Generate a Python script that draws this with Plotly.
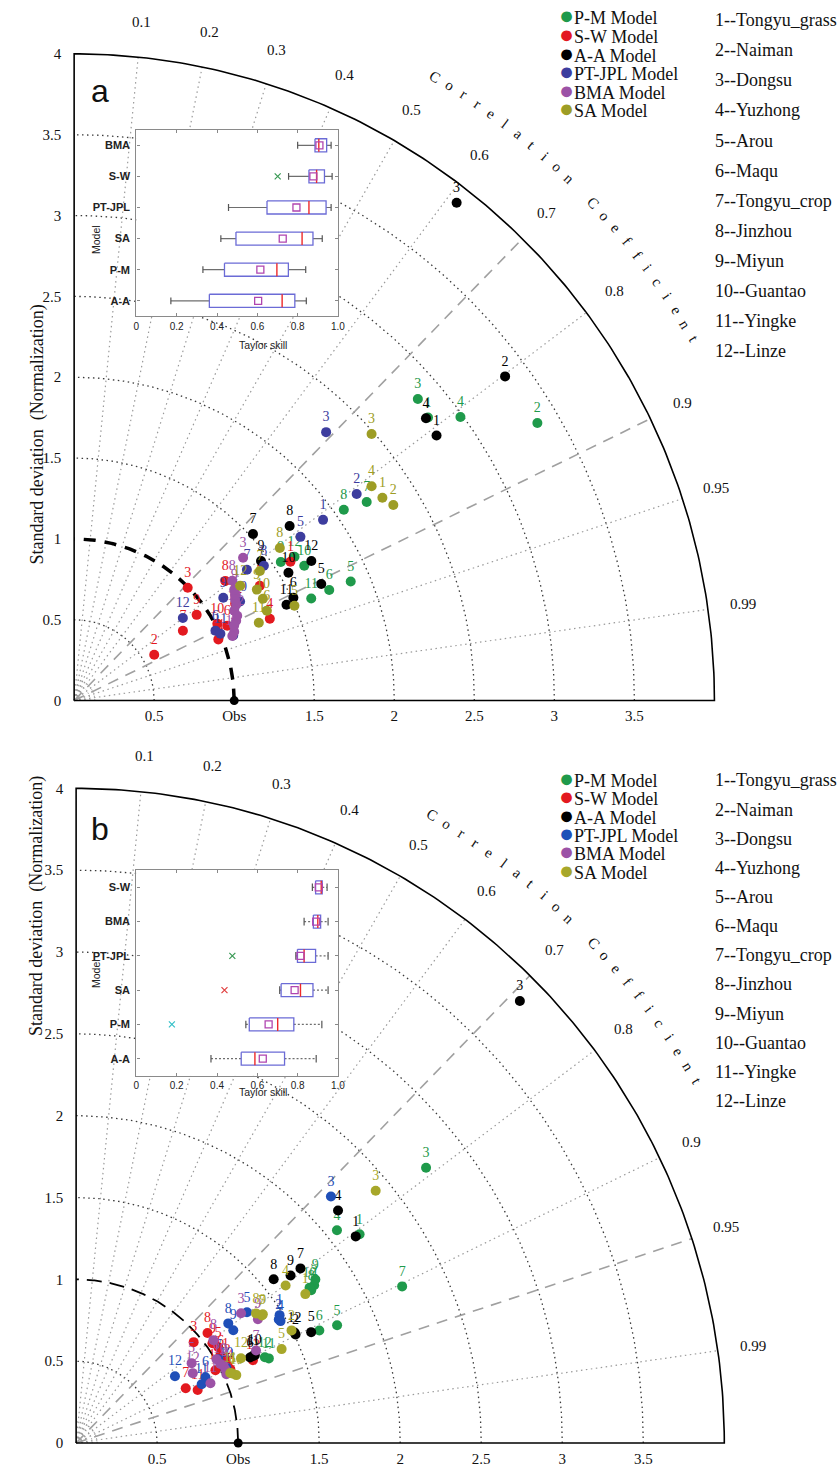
import numpy as np
import plotly.graph_objects as go

W, H = 840, 1470
SERIF = "Liberation Serif"
SANS = "Liberation Sans"

MODELS = ["P-M Model", "S-W Model", "A-A Model", "PT-JPL Model", "BMA Model", "SA Model"]
SITES = ["1--Tongyu_grass", "2--Naiman", "3--Dongsu", "4--Yuzhong", "5--Arou", "6--Maqu",
         "7--Tongyu_crop", "8--Jinzhou", "9--Miyun", "10--Guantao", "11--Yingke", "12--Linze"]
SITE_IDS = [str(i) for i in range(1, 13)]
COLORS_A = ["#1f9a4b", "#e3191f", "#000000", "#3d3d9e", "#9c52a6", "#9d9d25"]
COLORS_B = ["#1f9a4b", "#e3191f", "#000000", "#1f4fb8", "#9c52a6", "#a7a72a"]

# ---------------- Panel a: normalized standard deviation and correlation (sites 1..12)
A_STD_PM = [2.82, 3.365, 2.844, 2.983, 1.878, 1.734, 2.202, 2.057, 1.550, 1.662, 1.610, 1.639]
A_R_PM = [0.784, 0.860, 0.755, 0.809, 0.920, 0.919, 0.830, 0.819, 0.833, 0.865, 0.920, 0.840]
A_STD_SW = [1.601, 0.575, 0.995, 1.323, 1.360, 1.063, 0.805, 1.200, 0.931, 1.013, 0.977, 1.171]
A_R_SW = [0.844, 0.870, 0.713, 0.924, 0.853, 0.900, 0.844, 0.787, 0.822, 0.883, 0.922, 0.859]
A_STD_AA = [2.795, 3.357, 3.898, 2.807, 1.704, 1.510, 1.520, 1.726, 1.452, 1.555, 1.453, 1.715]
A_R_AA = [0.810, 0.802, 0.613, 0.783, 0.906, 0.907, 0.735, 0.780, 0.804, 0.861, 0.913, 0.864]
A_STD_PT = [1.915, 2.179, 2.288, 1.072, 1.739, 0.983, 1.349, 1.449, 1.128, 1.204, 1.003, 0.850]
A_R_PT = [0.812, 0.810, 0.688, 0.927, 0.813, 0.898, 0.800, 0.818, 0.826, 0.861, 0.911, 0.799]
A_STD_BMA = [1.173, 1.126, 1.376, 1.087, 1.183, 1.102, 1.200, 1.235, 1.212, 1.144, 1.066, 1.146]
A_R_BMA = [0.863, 0.899, 0.767, 0.920, 0.850, 0.907, 0.838, 0.800, 0.825, 0.874, 0.927, 0.889]
A_STD_SA = [2.298, 2.332, 2.484, 2.283, 1.496, 1.326, 1.410, 1.594, 1.332, 1.337, 1.250, 1.257]
A_R_SA = [0.838, 0.855, 0.748, 0.814, 0.920, 0.908, 0.823, 0.806, 0.857, 0.882, 0.923, 0.825]

# ---------------- Panel b
B_STD_PM = [2.165, 1.757, 2.737, 2.069, 1.764, 1.651, 2.228, 1.725, 1.783, 1.725, 1.297, 1.277]
B_R_PM = [0.808, 0.836, 0.789, 0.778, 0.913, 0.909, 0.903, 0.841, 0.828, 0.835, 0.917, 0.912]
B_STD_SW = [1.054, 1.047, 0.952, 1.053, 1.055, 1.039, 0.755, 1.053, 1.039, 0.968, 0.817, 1.203]
B_R_SW = [0.874, 0.891, 0.762, 0.904, 0.832, 0.857, 0.896, 0.770, 0.810, 0.888, 0.918, 0.907]
B_STD_AA = [2.138, 1.508, 3.846, 2.152, 1.601, 1.194, 1.748, 1.577, 1.673, 1.227, 1.213, 1.508]
B_R_AA = [0.807, 0.898, 0.712, 0.751, 0.906, 0.899, 0.792, 0.773, 0.791, 0.899, 0.899, 0.894]
B_STD_PT = [1.479, 1.461, 2.178, 1.465, 1.323, 0.894, 1.016, 1.190, 1.190, 1.036, 0.854, 0.734]
B_R_PT = [0.849, 0.856, 0.722, 0.861, 0.797, 0.893, 0.864, 0.789, 0.815, 0.895, 0.907, 0.831]
B_STD_BMA = [1.018, 1.026, 1.290, 1.025, 0.864, 1.006, 1.246, 1.055, 1.353, 1.012, 0.906, 0.837]
B_R_BMA = [0.911, 0.886, 0.789, 0.898, 0.825, 0.861, 0.891, 0.803, 0.829, 0.879, 0.915, 0.860]
B_STD_SA = [1.682, 1.497, 2.407, 1.612, 1.392, 1.053, 1.386, 1.364, 1.395, 1.072, 1.043, 1.142]
B_R_SA = [0.841, 0.888, 0.768, 0.802, 0.911, 0.915, 0.827, 0.814, 0.826, 0.922, 0.912, 0.891]

A_STD = [A_STD_PM, A_STD_SW, A_STD_AA, A_STD_PT, A_STD_BMA, A_STD_SA]
A_R = [A_R_PM, A_R_SW, A_R_AA, A_R_PT, A_R_BMA, A_R_SA]
B_STD = [B_STD_PM, B_STD_SW, B_STD_AA, B_STD_PT, B_STD_BMA, B_STD_SA]
B_R = [B_R_PM, B_R_SW, B_R_AA, B_R_PT, B_R_BMA, B_R_SA]

# ---------------- Insets: Taylor skill box plots
INA_CATS = ["BMA", "S-W", "PT-JPL", "SA", "P-M", "A-A"]
INA_LO = [0.800, 0.755, 0.457, 0.419, 0.330, 0.171]
INA_Q1 = [0.886, 0.856, 0.648, 0.494, 0.437, 0.362]
INA_MED = [0.905, 0.894, 0.856, 0.822, 0.697, 0.723]
INA_MEAN = [0.908, 0.878, 0.794, 0.726, 0.615, 0.604]
INA_Q3 = [0.944, 0.933, 0.941, 0.876, 0.754, 0.786]
INA_HI = [0.966, 0.971, 0.966, 0.922, 0.840, 0.843]
INA_OUT_CAT = ["S-W"]
INA_OUT_VAL = [0.701]
INA_OUT_COL = ["#3a9a55"]

INB_CATS = ["S-W", "BMA", "PT-JPL", "SA", "P-M", "A-A"]
INB_LO = [0.873, 0.832, 0.791, 0.711, 0.543, 0.370]
INB_Q1 = [0.889, 0.878, 0.799, 0.718, 0.560, 0.520]
INB_MED = [0.917, 0.900, 0.832, 0.814, 0.701, 0.588]
INB_MEAN = [0.905, 0.892, 0.814, 0.785, 0.656, 0.627]
INB_Q3 = [0.922, 0.914, 0.889, 0.876, 0.781, 0.735]
INB_HI = [0.946, 0.951, 0.951, 0.951, 0.920, 0.892]
INB_OUT_CAT = ["PT-JPL", "SA", "P-M"]
INB_OUT_VAL = [0.476, 0.437, 0.176]
INB_OUT_COL = ["#3a9a55", "#e04040", "#35c0c8"]

STD_TICKS = [0, 0.5, 1, 1.5, 2, 2.5, 3, 3.5, 4]
STD_LABELS = ["0", "0.5", "1", "1.5", "2", "2.5", "3", "3.5", "4"]
X_TICKS = [0.5, 1, 1.5, 2, 2.5, 3, 3.5]
X_LABELS = ["0.5", "Obs", "1.5", "2", "2.5", "3", "3.5"]
CORR_TICKS = [0.1, 0.2, 0.3, 0.4, 0.5, 0.6, 0.7, 0.8, 0.9, 0.95, 0.99]
CORR_LABELS = ["0.1", "0.2", "0.3", "0.4", "0.5", "0.6", "0.7", "0.8", "0.9", "0.95", "0.99"]
STD_ARCS = [0.5, 1.5, 2, 2.5, 3, 3.5]
SMALL_ARCS = [0.04, 0.07, 0.10, 0.13]
SKILL_TICKS = [0, 0.2, 0.4, 0.6, 0.8, 1.0]
SKILL_LABELS = ["0", "0.2", "0.4", "0.6", "0.8", "1.0"]

fig = go.Figure()


def taylor_xy(std, r):
    th = np.arccos(np.asarray(r, float))
    s = np.asarray(std, float)
    return s * np.cos(th), s * np.sin(th)


def arc(rad, n=181):
    t = np.linspace(0, np.pi / 2, n)
    return list(rad * np.cos(t)), list(rad * np.sin(t))


def line_trace(xs, ys, xa, ya, color, width, dash="solid"):
    fig.add_trace(go.Scatter(x=xs, y=ys, mode="lines", xaxis=xa, yaxis=ya,
                             line=dict(color=color, width=width, dash=dash),
                             hoverinfo="skip", showlegend=False))


def add_taylor(xa, ya, stds, rs, colors, dash_corrs, ref_w, ref_dash):
    xs, ys = [], []
    for r in STD_ARCS:
        ax, ay = arc(r)
        xs += ax + [None]
        ys += ay + [None]
    line_trace(xs, ys, xa, ya, "#3a3a3a", 1.3, "1.5px,3.5px")
    xs, ys = [], []
    for r in SMALL_ARCS:
        ax, ay = arc(r, 40)
        xs += ax + [None]
        ys += ay + [None]
    line_trace(xs, ys, xa, ya, "#a8a8a8", 1.0, "1.5px,2px")
    xs, ys = [], []
    for c in CORR_TICKS:
        if c in dash_corrs:
            continue
        th = np.arccos(c)
        xs += [0, 4 * np.cos(th), None]
        ys += [0, 4 * np.sin(th), None]
    line_trace(xs, ys, xa, ya, "#9a9a9a", 1.2, "1.5px,3.5px")
    xs, ys = [], []
    for c in dash_corrs:
        th = np.arccos(c)
        xs += [0, 4 * np.cos(th), None]
        ys += [0, 4 * np.sin(th), None]
    line_trace(xs, ys, xa, ya, "#a0a0a0", 1.6, "11px,8px")
    ax, ay = arc(4)
    xs = [0, 0] + ax[::-1] + [0]
    ys = [0, 4] + ay[::-1] + [0]
    line_trace(xs, ys, xa, ya, "#000000", 1.6)
    ax, ay = arc(1)
    line_trace(ax, ay, xa, ya, "#000000", ref_w, ref_dash)
    for k in range(len(MODELS)):
        x, y = taylor_xy(stds[k], rs[k])
        fig.add_trace(go.Scatter(
            x=x, y=y, mode="markers+text", text=SITE_IDS, textposition="top center",
            textfont=dict(family=SERIF, size=14, color=colors[k]),
            marker=dict(color=colors[k], size=10, line=dict(width=0)),
            name=MODELS[k], xaxis=xa, yaxis=ya, cliponaxis=False, showlegend=False))
    fig.add_trace(go.Scatter(x=[1], y=[0], mode="markers", marker=dict(color="black", size=9),
                             xaxis=xa, yaxis=ya, cliponaxis=False, showlegend=False, hoverinfo="skip"))


def add_inset(xa, ya, cats, lo, q1, med, mean, q3, hi, out_cat, out_val, out_col, bh, wdash):
    n = len(cats)
    fig.add_trace(go.Scatter(x=[0, 1, 1, 0, 0], y=[-0.5, -0.5, n - 0.5, n - 0.5, -0.5], mode="lines",
                             fill="toself", fillcolor="white", line=dict(width=0),
                             xaxis=xa, yaxis=ya, hoverinfo="skip", showlegend=False))
    wx, wy, cx, cy, bx, by, mx, my = [], [], [], [], [], [], [], []
    ch = 0.11
    for i in range(n):
        wx += [lo[i], q1[i], None, q3[i], hi[i], None]
        wy += [i, i, None, i, i, None]
        cx += [lo[i], lo[i], None, hi[i], hi[i], None]
        cy += [i - ch, i + ch, None, i - ch, i + ch, None]
        bx += [q1[i], q3[i], q3[i], q1[i], q1[i], None]
        by += [i - bh, i - bh, i + bh, i + bh, i - bh, None]
        mx += [med[i], med[i], None]
        my += [i - bh, i + bh, None]
    line_trace(wx, wy, xa, ya, "#6e6e6e", 1.2, wdash)
    line_trace(cx, cy, xa, ya, "#555555", 1.2)
    line_trace(bx, by, xa, ya, "#6b6bd6", 1.3)
    line_trace(mx, my, xa, ya, "#ee2a2a", 1.4)
    fig.add_trace(go.Scatter(x=mean, y=list(range(n)), mode="markers",
                             marker=dict(symbol="square-open", size=7, color="#b045b0", line=dict(width=1.3)),
                             xaxis=xa, yaxis=ya, hoverinfo="skip", showlegend=False))
    fig.add_trace(go.Scatter(x=out_val, y=[cats.index(c) for c in out_cat], mode="markers",
                             marker=dict(symbol="x-thin", size=6, line=dict(width=1.2, color=out_col)),
                             xaxis=xa, yaxis=ya, hoverinfo="skip", showlegend=False))


add_taylor("x", "y", A_STD, A_R, COLORS_A, [0.7, 0.9], 3.5, "12px,9px")
add_taylor("x2", "y2", B_STD, B_R, COLORS_B, [0.7, 0.95], 1.8, "15px,8px")
add_inset("x3", "y3", INA_CATS, INA_LO, INA_Q1, INA_MED, INA_MEAN, INA_Q3, INA_HI,
          INA_OUT_CAT, INA_OUT_VAL, INA_OUT_COL, 0.21, "solid")
add_inset("x4", "y4", INB_CATS, INB_LO, INB_Q1, INB_MED, INB_MEAN, INB_Q3, INB_HI,
          INB_OUT_CAT, INB_OUT_VAL, INB_OUT_COL, 0.19, "2px,2px")

# ---------------- layout geometry (pixels)
PAD = 0.03
RMAX = 4.3
OA, SA_ = (72, 702), 162.0
OB, SB_ = (74, 1446), 164.0


def main_axes(o, s):
    xd = [(o[0] - PAD * s) / W, (o[0] + RMAX * s) / W]
    yd = [1 - (o[1] + PAD * s) / H, 1 - (o[1] - RMAX * s) / H]
    return xd, yd


xa_d, ya_d = main_axes(OA, SA_)
xb_d, yb_d = main_axes(OB, SB_)

common_x = dict(range=[-PAD, RMAX], tickvals=X_TICKS, ticktext=X_LABELS, showgrid=False, zeroline=False,
                showline=False, ticks="", tickfont=dict(family=SERIF, size=15, color="#111"))
common_y = dict(range=[-PAD, RMAX], tickvals=STD_TICKS, ticktext=STD_LABELS, showgrid=False, zeroline=False,
                showline=False, ticks="", tickfont=dict(family=SERIF, size=15, color="#111"),
                ticklabelstandoff=7)


def inset_axes(ypix):
    xd = [135 / W, 339 / W]
    yd = [1 - ypix[1] / H, 1 - ypix[0] / H]
    xax = dict(domain=xd, range=[0, 1], tickvals=SKILL_TICKS, ticktext=SKILL_LABELS, ticks="inside",
               ticklen=3, tickcolor="#888", showline=True, linecolor="#8a8a8a", linewidth=1.3, mirror="ticks",
               showgrid=False, zeroline=False, tickfont=dict(family=SANS, size=10, color="#222"))
    yax = dict(domain=yd, range=[5.5, -0.5], ticks="inside", ticklen=3, tickcolor="#888", showline=True,
               linecolor="#8a8a8a", linewidth=1.3, mirror="ticks", showgrid=False, zeroline=False,
               tickfont=dict(family=SANS, size=11, color="#222"), ticklabelstandoff=3)
    return xax, yax


x3, y3 = inset_axes((130, 317))
x4, y4 = inset_axes((872, 1078))
y3.update(tickvals=list(range(6)), ticktext=["<b>%s</b>" % c for c in INA_CATS])
y4.update(tickvals=list(range(6)), ticktext=["<b>%s</b>" % c for c in INB_CATS])

ann = []


def add_panel_text(xa, ya, corr_r, letter_r, letter_t0, panel, panel_xy, legend_y0, legend_dy,
                   site_y0, site_dy, colors, ytitle_y):
    for c, lab in zip(CORR_TICKS, CORR_LABELS):
        th = np.arccos(c)
        ann.append(dict(x=corr_r * np.cos(th), y=corr_r * np.sin(th), xref=xa, yref=ya, text=lab,
                        showarrow=False, font=dict(family=SERIF, size=15, color="#111")))
    word = "Correlation Coefficient"
    angs = np.linspace(letter_t0, 30.0, len(word))
    for ch, a in zip(word, angs):
        if ch == " ":
            continue
        t = np.radians(a)
        ann.append(dict(x=letter_r * np.cos(t), y=letter_r * np.sin(t), xref=xa, yref=ya, text=ch,
                        textangle=90 - a, showarrow=False, font=dict(family=SERIF, size=15, color="#111")))
    ann.append(dict(x=panel_xy[0] / W, y=1 - panel_xy[1] / H, xref="paper", yref="paper", text=panel,
                    xanchor="center", yanchor="middle",
                    showarrow=False, font=dict(family=SANS, size=32, color="#111")))
    ann.append(dict(x=22 / W, y=1 - ytitle_y / H, xref="paper", yref="paper", textangle=-90,
                    text="Standard deviation  (Normalization)", showarrow=False,
                    font=dict(family=SERIF, size=18, color="#111")))
    for k, m in enumerate(MODELS):
        ann.append(dict(x=561 / W, y=1 - (legend_y0 + k * legend_dy) / H, xref="paper", yref="paper",
                        xanchor="left", yanchor="middle", showarrow=False,
                        text="<span style='color:%s;font-size:25px'>●</span>%s" % (colors[k], m),
                        font=dict(family=SERIF, size=18, color="#111")))
    for k, sname in enumerate(SITES):
        ann.append(dict(x=719 / W, y=1 - (site_y0 + k * site_dy) / H, xref="paper", yref="paper",
                        xanchor="left", yanchor="middle", showarrow=False, text=sname,
                        font=dict(family=SERIF, size=18, color="#111")))


add_panel_text("x", "y", 4.22, 4.47, 59.7, "a", (98, 91), 16, 18.6, 20, 30.2, COLORS_A, 303)
add_panel_text("x2", "y2", 4.22, 4.42, 60.2, "b", (98, 831), 780, 18.4, 782, 29.2, COLORS_B, 1040)

for yb, ym in [(338, 223), (1102, 975)]:
    ann.append(dict(x=237 / W, y=1 - yb / H, xref="paper", yref="paper", text="Taylor skill", showarrow=False,
                    font=dict(family=SANS, size=10.5, color="#222")))
    ann.append(dict(x=86 / W, y=1 - ym / H, xref="paper", yref="paper", text="Model", textangle=-90,
                    showarrow=False, font=dict(family=SANS, size=10.5, color="#222")))

fig.update_layout(
    width=W, height=H, margin=dict(l=0, r=0, t=0, b=0), paper_bgcolor="white", plot_bgcolor="white",
    showlegend=False,
    xaxis=dict(domain=xa_d, anchor="y", **common_x),
    yaxis=dict(domain=ya_d, anchor="x", **common_y),
    xaxis2=dict(domain=xb_d, anchor="y2", **common_x),
    yaxis2=dict(domain=yb_d, anchor="x2", **common_y),
    xaxis3=dict(anchor="y3", **x3), yaxis3=dict(anchor="x3", **y3),
    xaxis4=dict(anchor="y4", **x4), yaxis4=dict(anchor="x4", **y4),
    annotations=ann,
)

fig.write_html("out.html")
